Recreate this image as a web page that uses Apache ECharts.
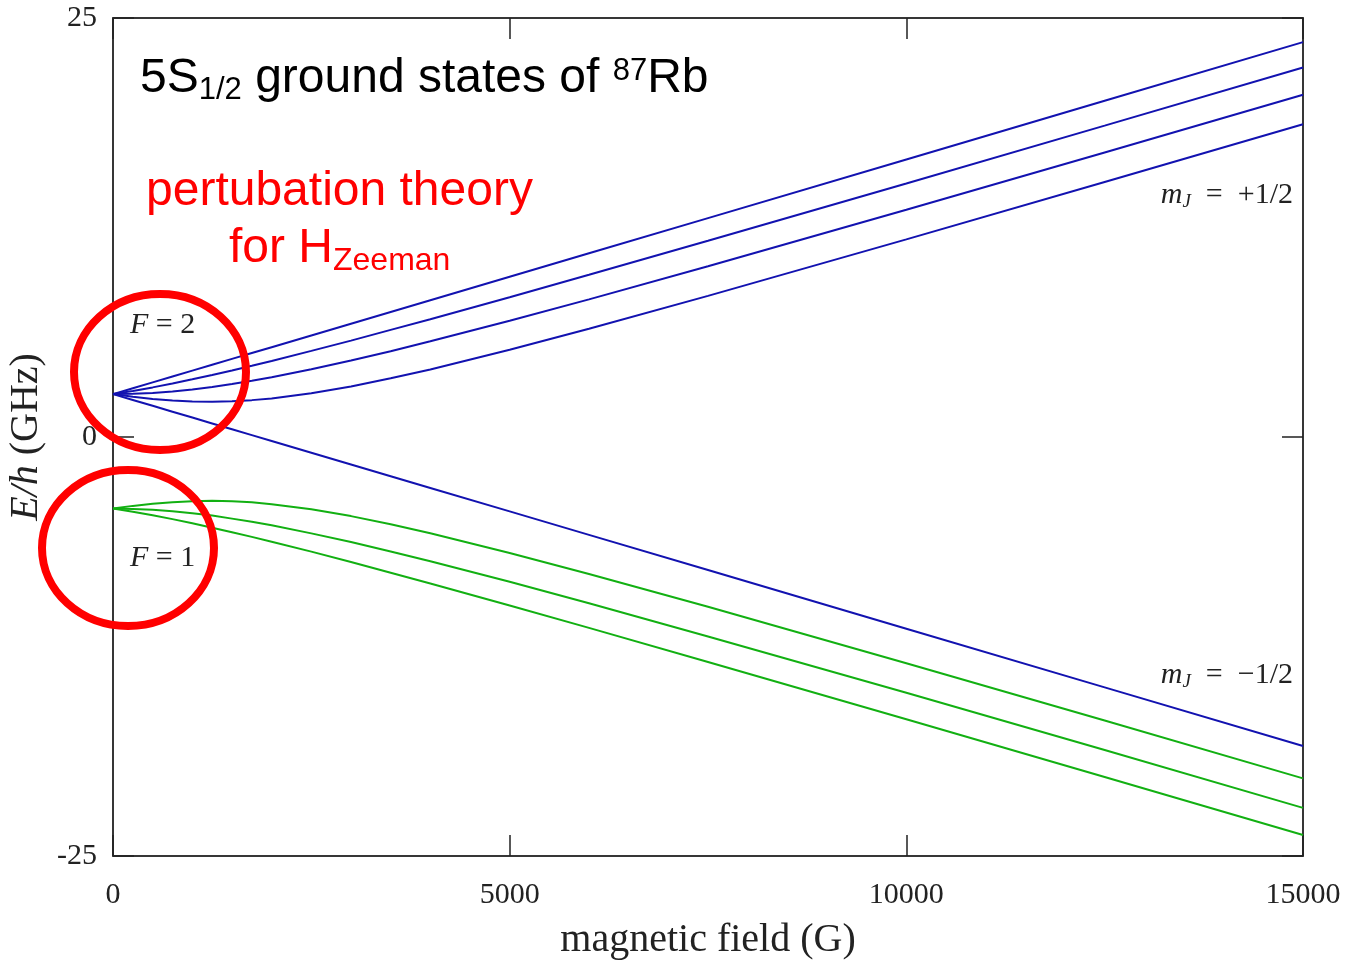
<!DOCTYPE html>
<html>
<head>
<meta charset="utf-8">
<title>Breit-Rabi diagram, 87Rb ground state</title>
<script src="https://cdn.jsdelivr.net/npm/echarts@6/dist/echarts.min.js"></script>
<style>
  html, body { margin: 0; padding: 0; background: #ffffff; }
  #chart { width: 1350px; height: 960px; }
</style>
</head>
<body>
<div id="chart"></div>
<script>
// magnetic field samples (G)
const fieldG = [0, 250, 500, 750, 1000, 1250, 1500, 1750, 2000, 2500, 3000, 3500, 4000, 5000, 6000, 7500, 10000, 12500, 15000];

// F = 2 manifold, energies E/h in GHz (mF = +2 ... -2)
const f2_mF2  = [2.56, 2.91, 3.26, 3.61, 3.96, 4.31, 4.66, 5.01, 5.36, 6.06, 6.76, 7.46, 8.16, 9.56, 10.96, 13.06, 16.56, 20.06, 23.56];
const f2_mF1  = [2.56, 2.75, 2.96, 3.19, 3.44, 3.70, 3.97, 4.25, 4.54, 5.14, 5.75, 6.39, 7.03, 8.34, 9.68, 11.71, 15.13, 18.58, 22.05];
const f2_mF0  = [2.56, 2.58, 2.63, 2.72, 2.84, 2.98, 3.16, 3.35, 3.56, 4.04, 4.56, 5.12, 5.71, 6.94, 8.21, 10.19, 13.56, 16.98, 20.42];
const f2_mFm1 = [2.56, 2.40, 2.27, 2.18, 2.12, 2.11, 2.13, 2.20, 2.30, 2.61, 3.01, 3.50, 4.03, 5.21, 6.46, 8.42, 11.79, 15.21, 18.66];
const f2_mFm2 = [2.56, 2.21, 1.86, 1.51, 1.16, 0.81, 0.46, 0.11, -0.24, -0.94, -1.64, -2.34, -3.04, -4.44, -5.84, -7.94, -11.44, -14.94, -18.44];

// F = 1 manifold (mF = -1, 0, +1)
const f1_mFm1 = [-4.27, -4.11, -3.98, -3.89, -3.83, -3.81, -3.84, -3.90, -4.01, -4.31, -4.72, -5.21, -5.74, -6.92, -8.17, -10.13, -13.50, -16.92, -20.37];
const f1_mF0  = [-4.27, -4.29, -4.34, -4.43, -4.55, -4.69, -4.87, -5.06, -5.27, -5.75, -6.27, -6.83, -7.41, -8.64, -9.92, -11.90, -15.26, -18.68, -22.13];
const f1_mF1  = [-4.27, -4.46, -4.67, -4.90, -5.15, -5.41, -5.68, -5.96, -6.25, -6.84, -7.46, -8.10, -8.74, -10.05, -11.39, -13.42, -16.84, -20.29, -23.75];

// axis ticks
const xTicks = [0, 5000, 10000, 15000];
const yTicks = [-25, 0, 25];

const BLUE = '#1212b0';
const GREEN = '#12b012';
const RED = '#ff0000';
const INK = '#222222';
const SERIF = '"Liberation Serif", "DejaVu Serif", serif';
const SANS = '"Liberation Sans", Arial, sans-serif';

function pairs(ys) { return fieldG.map((x, i) => [x, ys[i]]); }

function level(name, ys, color) {
  return {
    name: name, type: 'line', data: pairs(ys),
    xAxisIndex: 0, yAxisIndex: 0,
    showSymbol: false, smooth: false,
    lineStyle: { color: color, width: 2 },
    silent: true, animation: false
  };
}

const chart = echarts.init(document.getElementById('chart'), null, { renderer: 'canvas' });

const frameLine = { show: true, onZero: false, lineStyle: { color: '#2a2a2a', width: 1.5 } };
const tickInside = { show: true, inside: true, length: 21, lineStyle: { color: INK, width: 1.5 } };

const option = {
  backgroundColor: '#ffffff',
  animation: false,
  grid: {
    left: 113, right: 47, top: 18, bottom: 104,
    outerBoundsMode: 'none', containLabel: false,
    show: true, borderColor: '#2a2a2a', borderWidth: 1.5, backgroundColor: 'transparent'
  },
  xAxis: [
    {
      type: 'value', min: xTicks[0], max: xTicks[xTicks.length - 1], interval: 5000, position: 'bottom',
      axisLine: frameLine, axisTick: tickInside, splitLine: { show: false },
      axisLabel: { show: true, margin: 24, fontFamily: SERIF, fontSize: 30, color: INK, formatter: v => String(v) },
      name: 'magnetic field (G)', nameLocation: 'middle', nameGap: 64,
      nameTextStyle: { fontFamily: SERIF, fontSize: 40, color: INK }
    },
    {
      type: 'value', min: xTicks[0], max: xTicks[xTicks.length - 1], interval: 5000, position: 'top',
      axisLine: frameLine, axisTick: tickInside, axisLabel: { show: false }, splitLine: { show: false }
    }
  ],
  yAxis: [
    {
      type: 'value', min: yTicks[0], max: yTicks[yTicks.length - 1], interval: 25, position: 'left',
      axisLine: frameLine, axisTick: tickInside, splitLine: { show: false },
      axisLabel: { show: true, margin: 16, fontFamily: SERIF, fontSize: 30, color: INK, formatter: v => String(v) },
      name: '{i|E/h} (GHz)', nameLocation: 'middle', nameGap: 62, nameRotate: 90,
      nameTextStyle: {
        fontFamily: SERIF, fontSize: 40, color: INK,
        rich: { i: { fontFamily: SERIF, fontStyle: 'italic', fontSize: 40, color: INK } }
      }
    },
    {
      type: 'value', min: yTicks[0], max: yTicks[yTicks.length - 1], interval: 25, position: 'right',
      axisLine: frameLine, axisTick: tickInside, axisLabel: { show: false }, splitLine: { show: false }
    }
  ],
  series: [
    level('F=2, mF=+2', f2_mF2, BLUE),
    level('F=2, mF=+1', f2_mF1, BLUE),
    level('F=2, mF=0', f2_mF0, BLUE),
    level('F=2, mF=-1', f2_mFm1, BLUE),
    level('F=2, mF=-2', f2_mFm2, BLUE),
    level('F=1, mF=-1', f1_mFm1, GREEN),
    level('F=1, mF=0', f1_mF0, GREEN),
    level('F=1, mF=+1', f1_mF1, GREEN)
  ],
  graphic: [
    // heading
    {
      type: 'text', left: 140, top: 55, z: 10,
      style: {
        text: '{a|5S}{sub|1/2}{a| ground states of }{sup|87}{a|Rb}',
        fill: '#000',
        rich: {
          a: { fontFamily: SANS, fontSize: 48, lineHeight: 50, padding: [0, 0, 4, 0], verticalAlign: 'middle', fill: '#000' },
          sub: { fontFamily: SANS, fontSize: 31, lineHeight: 6, verticalAlign: 'bottom', fill: '#000' },
          sup: { fontFamily: SANS, fontSize: 31, lineHeight: 30, verticalAlign: 'top', fill: '#000' }
        }
      }
    },
    // red annotation
    {
      type: 'text', left: 146, top: 168, z: 10,
      style: {
        text: '{a|pertubation theory}',
        rich: { a: { fontFamily: SANS, fontSize: 48, lineHeight: 50, fill: RED } }
      }
    },
    {
      type: 'text', left: 229, top: 225, z: 10,
      style: {
        text: '{a|for H}{sub|Zeeman}',
        rich: {
          a: { fontFamily: SANS, fontSize: 48, lineHeight: 50, padding: [0, 0, 6, 0], verticalAlign: 'middle', fill: RED },
          sub: { fontFamily: SANS, fontSize: 32, lineHeight: 4, verticalAlign: 'bottom', fill: RED }
        }
      }
    },
    // manifold labels
    {
      type: 'text', left: 130, top: 310, z: 10,
      style: {
        text: '{i|F} = 2',
        font: '30px ' + SERIF, fill: INK,
        rich: { i: { fontFamily: SERIF, fontStyle: 'italic', fontSize: 30, fill: INK } }
      }
    },
    {
      type: 'text', left: 130, top: 543, z: 10,
      style: {
        text: '{i|F} = 1',
        font: '30px ' + SERIF, fill: INK,
        rich: { i: { fontFamily: SERIF, fontStyle: 'italic', fontSize: 30, fill: INK } }
      }
    },
    {
      type: 'text', right: 57, top: 180, z: 10,
      style: {
        text: '{i|m}{s|J}{n|  =  +1/2}',
        rich: {
          i: { fontFamily: SERIF, fontStyle: 'italic', fontSize: 30, lineHeight: 32, verticalAlign: 'middle', fill: INK },
          s: { fontFamily: SERIF, fontStyle: 'italic', fontSize: 19, lineHeight: 4, verticalAlign: 'bottom', fill: INK },
          n: { fontFamily: SERIF, fontSize: 30, lineHeight: 32, verticalAlign: 'middle', fill: INK }
        }
      }
    },
    {
      type: 'text', right: 57, top: 660, z: 10,
      style: {
        text: '{i|m}{s|J}{n|  =  \u22121/2}',
        rich: {
          i: { fontFamily: SERIF, fontStyle: 'italic', fontSize: 30, lineHeight: 32, verticalAlign: 'middle', fill: INK },
          s: { fontFamily: SERIF, fontStyle: 'italic', fontSize: 19, lineHeight: 4, verticalAlign: 'bottom', fill: INK },
          n: { fontFamily: SERIF, fontSize: 30, lineHeight: 32, verticalAlign: 'middle', fill: INK }
        }
      }
    },
    // red highlight rings
    {
      type: 'ellipse', z: 20, silent: true,
      shape: { cx: 160, cy: 372, rx: 86, ry: 78 },
      style: { fill: 'none', stroke: RED, lineWidth: 8 }
    },
    {
      type: 'ellipse', z: 20, silent: true,
      shape: { cx: 128, cy: 548, rx: 86, ry: 78 },
      style: { fill: 'none', stroke: RED, lineWidth: 8 }
    }
  ]
};

chart.setOption(option);
</script>
</body>
</html>
